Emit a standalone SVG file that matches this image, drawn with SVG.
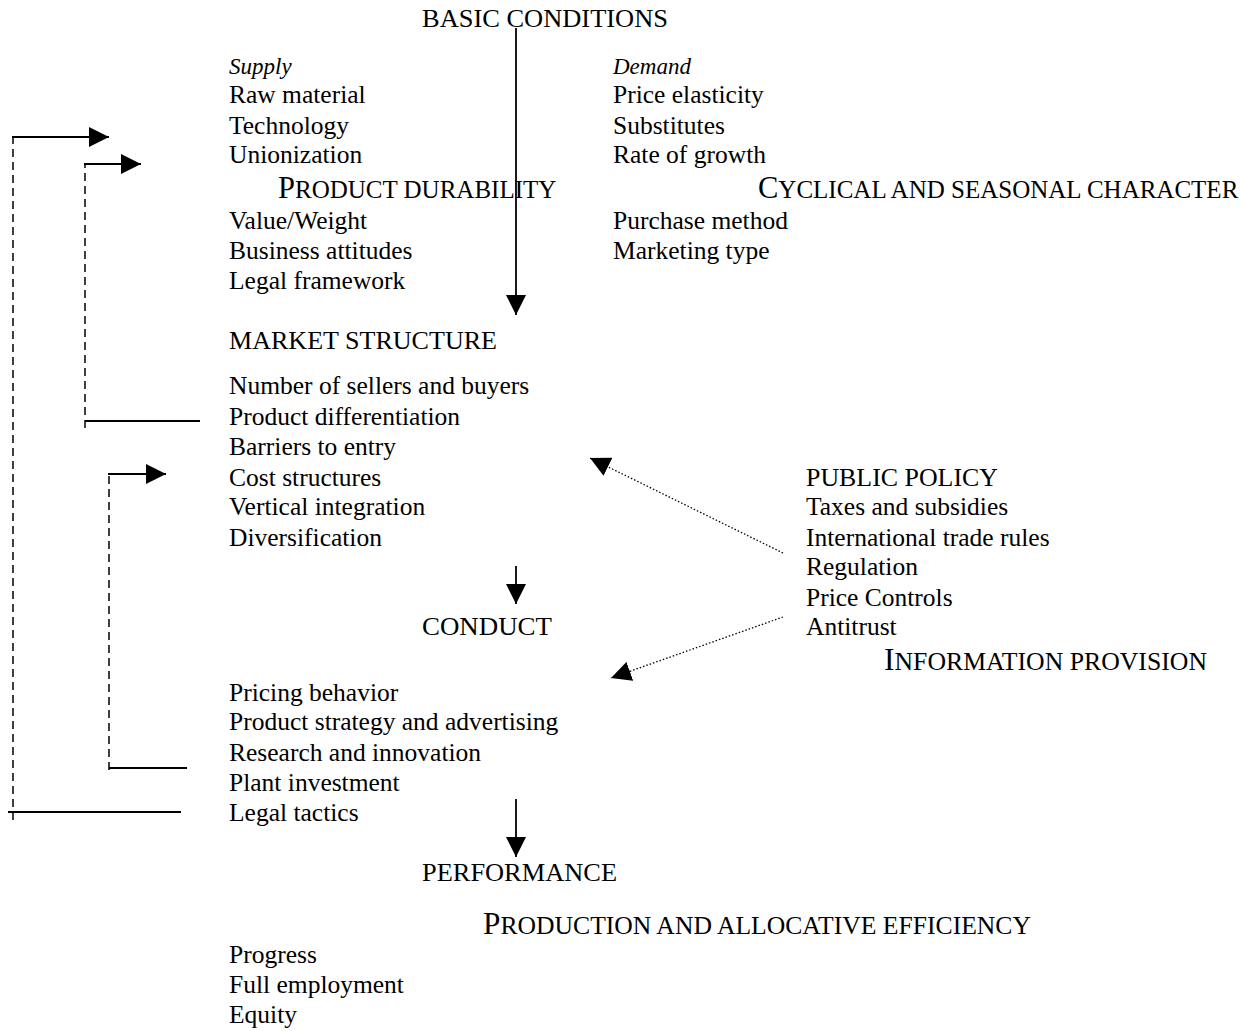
<svg xmlns="http://www.w3.org/2000/svg" width="1243" height="1031" viewBox="0 0 1243 1031">
<style>
  text { font-family: "Liberation Serif", "Times New Roman", serif; font-size: 25.5px; fill: #000; }
  .it { font-style: italic; font-size: 23px; }
  .big { font-size: 30.5px; }
  .sm { font-size: 25px; }
  .solid { stroke: #000; stroke-width: 1.8; fill: none; }
  .dash { stroke: #000; stroke-width: 1.5; fill: none; stroke-dasharray: 8 5; }
  .dot { stroke: #000; stroke-width: 1.3; fill: none; stroke-dasharray: 1.5 2; }
</style>
<defs>
  <marker id="ah" viewBox="0 0 20 20" refX="20" refY="10" markerWidth="20" markerHeight="20" markerUnits="userSpaceOnUse" orient="auto">
    <path d="M0,0 L20,10 L0,20 z" fill="#000"/>
  </marker>
</defs>
<rect width="1243" height="1031" fill="#fff"/>

<g id="basic-conditions">
  <text x="422" y="27" textLength="246" lengthAdjust="spacingAndGlyphs">BASIC CONDITIONS</text>
  <text class="it" x="229" y="74">Supply</text>
  <text x="229" y="103">Raw material</text>
  <text x="229" y="134">Technology</text>
  <text x="229" y="163">Unionization</text>
  <text x="278" y="198"><tspan class="big">P</tspan><tspan class="sm">RODUCT DURABILITY</tspan></text>
  <text x="229" y="229">Value/Weight</text>
  <text x="229" y="259">Business attitudes</text>
  <text x="229" y="289">Legal framework</text>
  <text class="it" x="613" y="74">Demand</text>
  <text x="613" y="103">Price elasticity</text>
  <text x="613" y="134">Substitutes</text>
  <text x="613" y="163">Rate of growth</text>
  <text x="758" y="198"><tspan class="big">C</tspan><tspan class="sm">YCLICAL AND SEASONAL CHARACTER</tspan></text>
  <text x="613" y="229">Purchase method</text>
  <text x="613" y="259">Marketing type</text>
</g>

<g id="market-structure">
  <text x="229" y="349" textLength="268" lengthAdjust="spacingAndGlyphs">MARKET STRUCTURE</text>
  <text x="229" y="394">Number of sellers and buyers</text>
  <text x="229" y="425">Product differentiation</text>
  <text x="229" y="455">Barriers to entry</text>
  <text x="229" y="486">Cost structures</text>
  <text x="229" y="515">Vertical integration</text>
  <text x="229" y="546">Diversification</text>
</g>

<g id="conduct">
  <text x="422" y="635" textLength="130" lengthAdjust="spacingAndGlyphs">CONDUCT</text>
  <text x="229" y="701">Pricing behavior</text>
  <text x="229" y="730">Product strategy and advertising</text>
  <text x="229" y="761">Research and innovation</text>
  <text x="229" y="791">Plant investment</text>
  <text x="229" y="821">Legal tactics</text>
</g>

<g id="performance">
  <text x="422" y="881" textLength="195" lengthAdjust="spacingAndGlyphs">PERFORMANCE</text>
  <text x="483" y="934" textLength="548" lengthAdjust="spacingAndGlyphs"><tspan class="big">P</tspan><tspan class="sm">RODUCTION AND ALLOCATIVE EFFICIENCY</tspan></text>
  <text x="229" y="963">Progress</text>
  <text x="229" y="993">Full employment</text>
  <text x="229" y="1023">Equity</text>
</g>

<g id="public-policy">
  <text x="806" y="486" textLength="192" lengthAdjust="spacingAndGlyphs">PUBLIC POLICY</text>
  <text x="806" y="515">Taxes and subsidies</text>
  <text x="806" y="546">International trade rules</text>
  <text x="806" y="575">Regulation</text>
  <text x="806" y="606">Price Controls</text>
  <text x="806" y="635">Antitrust</text>
  <text x="884" y="670" textLength="323" lengthAdjust="spacingAndGlyphs"><tspan class="big">I</tspan><tspan class="sm">NFORMATION PROVISION</tspan></text>
</g>

<g id="connectors">
  <line class="solid" x1="516" y1="28" x2="516" y2="315" marker-end="url(#ah)"/>
  <line class="solid" x1="516" y1="566" x2="516" y2="604" marker-end="url(#ah)"/>
  <line class="solid" x1="516" y1="799" x2="516" y2="857" marker-end="url(#ah)"/>

  <line class="solid" x1="8" y1="812" x2="181" y2="812"/>
  <line class="dash" x1="13" y1="820" x2="13" y2="137"/>
  <line class="solid" x1="12" y1="137" x2="109" y2="137" marker-end="url(#ah)"/>

  <line class="solid" x1="85" y1="421" x2="200" y2="421"/>
  <line class="dash" x1="85" y1="428" x2="85" y2="164"/>
  <line class="solid" x1="84" y1="164" x2="141" y2="164" marker-end="url(#ah)"/>

  <line class="solid" x1="109" y1="768" x2="187" y2="768"/>
  <line class="dash" x1="109" y1="770" x2="109" y2="474"/>
  <line class="solid" x1="108" y1="474" x2="166" y2="474" marker-end="url(#ah)"/>

  <line class="dot" x1="783" y1="553" x2="590" y2="458" marker-end="url(#ah)"/>
  <line class="dot" x1="783" y1="617" x2="611" y2="678" marker-end="url(#ah)"/>
</g>
</svg>
